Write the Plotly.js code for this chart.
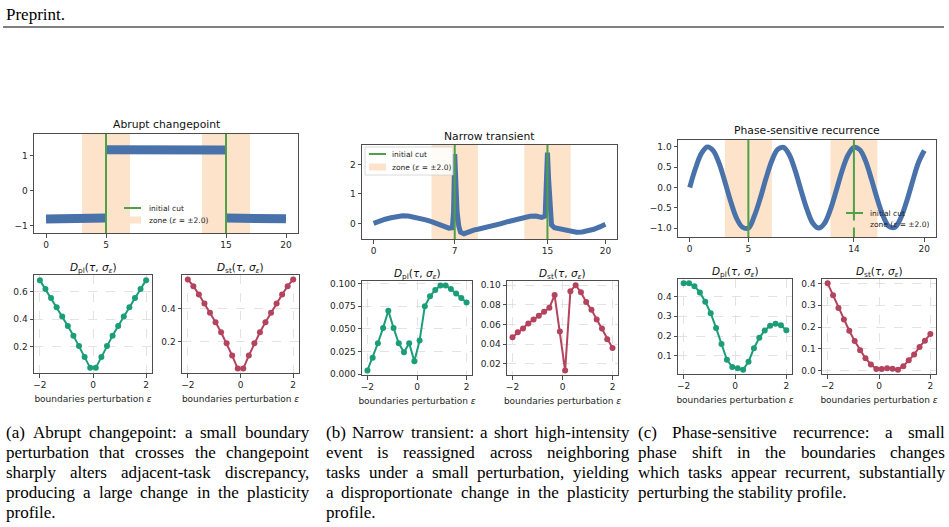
<!DOCTYPE html>
<html><head><meta charset="utf-8">
<script src="https://cdn.plot.ly/plotly-3.0.1.min.js"></script>
<style>html,body{margin:0;padding:0;background:#fff}#chart{width:949px;height:527px}</style>
</head><body><div id="chart"></div>
<script>
// ---------------- data ----------------
const eps = [-2,-1.789,-1.579,-1.368,-1.158,-0.947,-0.737,-0.526,-0.316,-0.105,0.105,0.316,0.526,0.737,0.947,1.158,1.368,1.579,1.789,2];

const aPl = [0.685,0.62,0.555,0.488,0.42,0.35,0.28,0.205,0.125,0.045,0.045,0.125,0.205,0.28,0.35,0.42,0.488,0.555,0.62,0.685];
const aSt = [0.574,0.534,0.484,0.43,0.374,0.316,0.256,0.19,0.116,0.038,0.038,0.116,0.19,0.256,0.316,0.374,0.43,0.484,0.534,0.574];
const bPl = [0.004,0.018,0.034,0.051,0.070,0.051,0.034,0.024,0.034,0.014,0.037,0.075,0.086,0.093,0.098,0.098,0.094,0.089,0.084,0.079];
const bSt = [0.047,0.052,0.056,0.061,0.065,0.069,0.073,0.077,0.090,0.053,0.013,0.094,0.100,0.093,0.083,0.075,0.065,0.056,0.045,0.036];
const cPl = [0.466,0.466,0.451,0.420,0.373,0.315,0.241,0.160,0.080,0.044,0.037,0.030,0.070,0.138,0.191,0.228,0.252,0.262,0.254,0.229];
const cSt = [0.400,0.346,0.287,0.234,0.183,0.136,0.094,0.057,0.029,0.008,0.008,0.011,0.009,0.005,0.021,0.048,0.074,0.109,0.137,0.168];

// signals
const aT = [0,1.25,2.5,3.75,5,null,5,7.5,10,12.5,15,null,15,16.25,17.5,18.75,20];
const aY = [-0.82,-0.8,-0.81,-0.8,-0.79,null,1.18,1.19,1.2,1.19,1.17,null,-0.79,-0.81,-0.8,-0.8,-0.81];

const bT = [0,0.5,1,1.5,2,2.5,3,3.5,4,4.5,5,5.5,6,6.5,6.8,6.9,7.0,7.1,7.2,7.35,7.5,7.8,8.2,8.7,9,9.5,10,10.5,11,11.5,12,12.5,13,13.5,14,14.5,14.8,14.9,15.0,15.1,15.2,15.35,15.6,16,16.5,17,17.5,18,18.5,19,19.5,20];
const bY = [0.0,0.08,0.14,0.19,0.23,0.26,0.25,0.22,0.17,0.12,0.06,0.0,-0.08,-0.16,-0.15,0.4,2.35,1.3,0.4,-0.1,-0.3,-0.35,-0.28,-0.22,-0.2,-0.16,-0.12,-0.06,-0.01,0.05,0.1,0.15,0.2,0.24,0.25,0.2,0.25,1.1,2.4,1.5,0.5,-0.05,-0.15,-0.18,-0.22,-0.27,-0.3,-0.29,-0.25,-0.2,-0.12,-0.03];

const cT = [0,0.5,1,1.5,2,2.5,3,3.5,4,4.5,5,5.5,6,6.5,7,7.5,8,8.5,9,9.5,10,10.5,11,11.5,12,12.5,13,13.5,14,14.5,15,15.5,16,16.5,17,17.5,18,18.5,19,19.5,20];
const cY = [0.0,0.48,0.84,1.0,0.91,0.6,0.14,-0.35,-0.76,-0.98,-1.0,-0.71,-0.28,0.22,0.66,0.94,0.99,0.8,0.41,-0.08,-0.54,-0.88,-1.0,-0.88,-0.54,-0.07,0.42,0.8,0.99,0.93,0.65,0.2,-0.29,-0.71,-0.96,-0.98,-0.75,-0.34,0.15,0.61,0.91];

const cutsA = [5,15], cutsB = [7,15], cutsC = [5,14];
const zoneEps = 2.0;
const tMax = 20;

const titles = ["Abrupt changepoint","Narrow transient","Phase-sensitive recurrence"];
const plTitle = "<i>D</i><sub>pl</sub>(<i>τ</i>, <i>σ</i><sub><i>ε</i></sub>)";
const stTitle = "<i>D</i><sub>st</sub>(<i>τ</i>, <i>σ</i><sub><i>ε</i></sub>)";
const xLabel = "boundaries perturbation <i>ε</i>";
const legCut = "initial cut";
const legZone = "zone (<i>ε</i> = ±2.0)";

const capA = ["(a) Abrupt changepoint: a small boundary","perturbation that crosses the changepoint","sharply alters adjacent-task discrepancy,","producing a large change in the plasticity","profile."];
const capB = ["(b) Narrow transient: a short high-intensity","event is reassigned across neighboring","tasks under a small perturbation, yielding","a disproportionate change in the plasticity","profile."];
const capC = ["(c) Phase-sensitive recurrence: a small","phase shift in the boundaries changes","which tasks appear recurrent, substantially","perturbing the stability profile."];

// ---------------- styling ----------------
const W = 949, H = 527;
const BLUE = '#4a72aa', CUT = '#4fa046', ZONE = '#fce3c9', PL = '#1b9e77', ST = '#b4435e';
const SPINE = '#4d4d4d';
const tickFont = {family:'DejaVu Sans', size:9, color:'#262626'};

const layout = {
  width: W, height: H, margin:{l:0,r:0,t:0,b:0},
  paper_bgcolor:'#fff', plot_bgcolor:'#fff', showlegend:false,
  annotations: [], shapes: []
};
const data = [];
const px = v => v/W, py = v => 1 - v/H;

function baseAxis(extra){
  return Object.assign({showline:true, mirror:true, linecolor:SPINE, linewidth:1,
    ticks:'outside', ticklen:3.5, tickwidth:1, tickcolor:SPINE, tickfont:tickFont,
    zeroline:false, showgrid:false, fixedrange:true, automargin:false}, extra);
}
function addAxes(n, x0, x1, y0, y1, xo, yo){
  const s = n===1 ? '' : String(n);
  layout['xaxis'+s] = baseAxis(Object.assign({domain:[px(x0), px(x1)], anchor:'y'+s}, xo));
  layout['yaxis'+s] = baseAxis(Object.assign({domain:[py(y1), py(y0)], anchor:'x'+s}, yo));
  return {x:'x'+s, y:'y'+s};
}
function text(t, x, y, size, anchor, fam, color){
  layout.annotations.push({text:t, xref:'paper', yref:'paper', x:px(x), y:py(y),
    xanchor:anchor||'center', yanchor:'middle', showarrow:false,
    font:{family:fam||'DejaVu Sans', size:size, color:color||'#111'}});
}

function topPanel(n, box, t, y, cuts, yr, yticks, yfmt, lw, shape, ttl, ttlY){
  const ax = addAxes(n, box[0], box[1], box[2], box[3],
    {range:[-1, 21], tickvals:[0, ...cuts, tMax]},
    {range:yr, tickvals:yticks, tickformat:yfmt});
  const zx = [], zy = [];
  cuts.forEach((c,i)=>{ if(i){zx.push(null); zy.push(null);} zx.push(c-zoneEps, c+zoneEps, c+zoneEps, c-zoneEps, c-zoneEps); zy.push(yr[0],yr[0],yr[1],yr[1],yr[0]); });
  data.push({type:'scatter', x:zx, y:zy, xaxis:ax.x, yaxis:ax.y, mode:'none', fill:'toself', fillcolor:ZONE, hoverinfo:'skip'});
  data.push({type:'scatter', x:t, y:y, xaxis:ax.x, yaxis:ax.y, mode:'lines', line:{color:BLUE, width:lw, shape:shape},
    connectgaps:false, hoverinfo:'skip'});
  const cx = [], cy = [];
  cuts.forEach((c,i)=>{ if(i){cx.push(null); cy.push(null);} cx.push(c,c); cy.push(yr[0],yr[1]); });
  data.push({type:'scatter', x:cx, y:cy, xaxis:ax.x, yaxis:ax.y, mode:'lines', line:{color:CUT, width:2}, hoverinfo:'skip'});
  text(ttl, (box[0]+box[1])/2, ttlY, 10.8);
}

function botPanel(n, box, vals, color, yr, yticks, yfmt, ttl){
  const ax = addAxes(n, box[0], box[1], box[2], box[3],
    {range:[-2.22, 2.22], tickvals:[-2,0,2], showgrid:true, gridcolor:'#dcdcdc', griddash:'dash', gridwidth:0.8,
     title:{text:xLabel, font:{family:'DejaVu Sans', size:9, color:'#262626'}, standoff:6}},
    {range:yr, tickvals:yticks, tickformat:yfmt, showgrid:true, gridcolor:'#dcdcdc', griddash:'dash', gridwidth:0.8});
  data.push({type:'scatter', x:eps, y:vals, xaxis:ax.x, yaxis:ax.y, mode:'lines+markers',
    line:{color, width:2}, marker:{color, size:6}, hoverinfo:'skip'});
  text(ttl, (box[0]+box[1])/2, box[2]-7, 10.5);
}

// manual legend (matplotlib-like compact rows)
function legend(hx0, tx, r1, r2, box){
  if (box) layout.shapes.push({type:'rect', xref:'paper', yref:'paper', x0:px(box[0]), x1:px(box[1]), y0:py(box[3]), y1:py(box[2]),
    fillcolor:'rgba(255,255,255,0.85)', line:{color:'#d0d0d0', width:0.8}});
  layout.shapes.push({type:'line', xref:'paper', yref:'paper', x0:px(hx0), x1:px(hx0+17), y0:py(r1), y1:py(r1), line:{color:CUT, width:2}});
  layout.shapes.push({type:'rect', xref:'paper', yref:'paper', x0:px(hx0), x1:px(hx0+17), y0:py(r2+3.5), y1:py(r2-3.5), fillcolor:ZONE, line:{width:0}});
  text(legCut, tx, r1, 7.5, 'left', 'DejaVu Sans', '#222');
  text(legZone, tx, r2, 7.5, 'left', 'DejaVu Sans', '#222');
}

// (a)
topPanel(1, [34,298,134,233], aT, aY, cutsA, [-1.22,1.63], [-1,0,1], '', 9, 'linear', titles[0], 124);
botPanel(2, [34,152,275,373], aPl, PL, [0.0075,0.7225], [0.2,0.4,0.6], '.1f', plTitle);
botPanel(3, [182,299,275,373], aSt, ST, [0.011,0.601], [0.2,0.4], '.1f', stTitle);
legend(124, 147, 208, 220, null);
// (b)
topPanel(4, [362,617,145,239], bT, bY, cutsB, [-0.53,2.66], [0,1,2], '', 5, 'linear', titles[1], 136);
botPanel(5, [362,472,281,375], bPl, PL, [-0.0011,0.1029], [0,0.025,0.05,0.075,0.1], '.3f', plTitle);
botPanel(6, [507,618,281,375], bSt, ST, [0.0085,0.1044], [0.02,0.04,0.06,0.08,0.1], '.2f', stTitle);
legend(369, 390, 154, 167, [365,453,147,175]);
// (c)
topPanel(7, [678,936,140,237], cT, cY, cutsC, [-1.22,1.17], [-1,-0.5,0,0.5,1], '.1f', 5, 'spline', titles[2], 130);
botPanel(8, [678,792,279,374], cPl, PL, [0.008,0.488], [0.1,0.2,0.3,0.4], '.1f', plTitle);
botPanel(9, [822,936,279,374], cSt, ST, [-0.015,0.42], [0,0.1,0.2,0.3,0.4], '.1f', stTitle);
legend(846, 868, 213, 224, null);

// header
text('Preprint.', 4, 15, 17, 'left', 'Liberation Serif', '#000');
layout.shapes.push({type:'line', xref:'paper', yref:'paper', x0:px(3), x1:px(944), y0:py(27), y1:py(27), line:{color:'#000', width:1}});

// captions, justified word by word
const CAP_FONT = 17;
const ctx = document.createElement('canvas').getContext('2d');
ctx.font = CAP_FONT + "px 'Liberation Serif'";
function caption(lines, x0, x1){
  lines.forEach((s,i)=>{
    const y = 432 + i*20;
    const words = s.split(' ');
    const last = i === lines.length-1;
    const widths = words.map(w => ctx.measureText(w).width);
    const total = widths.reduce((a,b)=>a+b,0);
    const space = ctx.measureText(' ').width;
    let gap = (!last && words.length>1) ? (x1-x0-total)/(words.length-1) : space;
    if (gap < space*0.6) gap = space*0.6;
    let x = x0;
    words.forEach((w,k)=>{
      text(w, x, y, CAP_FONT, 'left', 'Liberation Serif', '#000');
      x += widths[k] + gap;
    });
  });
}
caption(capA, 4, 307); caption(capB, 324, 627); caption(capC, 636, 943);

Plotly.newPlot('chart', data, layout, {staticPlot:true, displayModeBar:false});
</script></body></html>
